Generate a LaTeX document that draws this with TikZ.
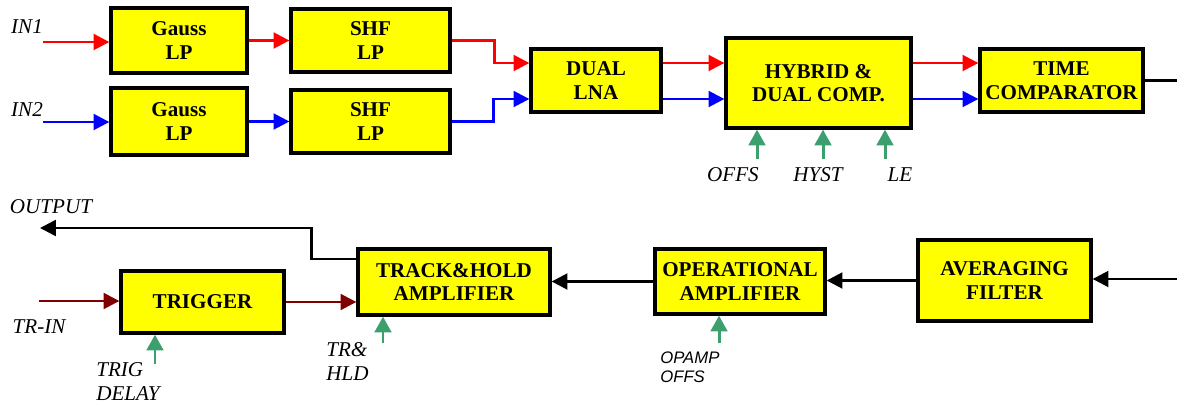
\documentclass[tikz,border=0pt]{standalone}
\usepackage{fontspec}
\setmainfont{Liberation Serif}
\setsansfont{Liberation Sans}
\usepackage{tikz}
\usetikzlibrary{arrows.meta,positioning}
\definecolor{blockYellow}{RGB}{255,255,0}
\definecolor{sigRed}{RGB}{255,0,0}
\definecolor{sigBlue}{RGB}{0,0,255}
\definecolor{trigRed}{RGB}{128,0,0}
\definecolor{ctrlGreen}{RGB}{60,160,110}

\begin{document}
\begin{tikzpicture}[x=0.02cm,y=-0.02cm,
  block/.style={draw=black, fill=blockYellow, line width=1.9pt, inner sep=0pt, align=center,
    font=\fontsize{12}{13.5}\selectfont\bfseries},
  wire/.style={line width=1.5pt, -{Triangle[length=9pt,width=9pt]}},
  ctrl/.style={ctrlGreen, line width=1.7pt, -{Triangle[length=9pt,width=9.5pt]}},
  lbl/.style={font=\fontsize{12}{13.5}\selectfont\itshape, inner sep=0pt, align=left}]
\useasboundingbox (0,0) rectangle (1177,409);

% upper chain
\node[block, minimum width=2.72cm, minimum height=1.30cm] (gaussA) at (179,40.5) {Gauss\\LP};
\node[block, minimum width=2.72cm, minimum height=1.34cm] (gaussB) at (179,121.5) {Gauss\\LP};
\node[block, minimum width=3.18cm, minimum height=1.26cm] (shfA) at (370.5,40.5) {SHF\\LP};
\node[block, minimum width=3.18cm, minimum height=1.26cm] (shfB) at (370.5,121.5) {SHF\\LP};
\node[block, minimum width=2.60cm, minimum height=1.26cm] (lna) at (596,80.5) {DUAL\\LNA};
\node[block, minimum width=3.70cm, minimum height=1.80cm] (hybrid) at (818.5,83) {HYBRID \&\\DUAL COMP.};
\node[block, minimum width=3.26cm, minimum height=1.26cm] (timecomp) at (1061.5,80.5) {TIME\\COMPARATOR};

\node[lbl] (inA) at (27,27) {IN1};
\node[lbl] (inB) at (27,110) {IN2};
\coordinate (inAend) at (43,42);
\coordinate (inBend) at (43,122);
\coordinate (edgeA) at (1177,80.5);

\draw[wire, sigRed] (inAend) -- (inAend -| gaussA.west);
\draw[wire, sigRed] (gaussA.east) -- (gaussA.east -| shfA.west);
\draw[wire, sigRed] (shfA.east) -- ++(43,0) |- ([yshift=0.35cm]lna.west);
\draw[wire, sigRed] ([yshift=0.35cm]lna.east) -- ([yshift=0.35cm]lna.east -| hybrid.west);
\draw[wire, sigRed] ([yshift=0.35cm]lna.east -| hybrid.east) -- ([yshift=0.35cm]timecomp.west);

\draw[wire, sigBlue] (inBend) -- (inBend -| gaussB.west);
\draw[wire, sigBlue] (gaussB.east) -- (gaussB.east -| shfB.west);
\draw[wire, sigBlue] (shfB.east) -- ++(42,0) |- ([yshift=-0.37cm]lna.west);
\draw[wire, sigBlue] ([yshift=-0.37cm]lna.east) -- ([yshift=-0.37cm]lna.east -| hybrid.west);
\draw[wire, sigBlue] ([yshift=-0.37cm]lna.east -| hybrid.east) -- ([yshift=-0.37cm]timecomp.west);

\draw[line width=1.5pt] (timecomp.east) -- (edgeA);

% hybrid controls
\coordinate (offsIn) at (757,159);
\coordinate (hystIn) at (823,159);
\coordinate (leIn) at (885,159);
\draw[ctrl] (offsIn) -- (offsIn |- hybrid.south);
\draw[ctrl] (hystIn) -- (hystIn |- hybrid.south);
\draw[ctrl] (leIn) -- (leIn |- hybrid.south);
\node[lbl] (offs) at (733,175) {OFFS};
\node[lbl] (hyst) at (818,175) {HYST};
\node[lbl] (le) at (900,175) {LE};

% lower chain
\node[block, minimum width=3.26cm, minimum height=1.24cm] (trigger) at (202.5,302) {TRIGGER};
\node[block, minimum width=3.84cm, minimum height=1.32cm] (trackhold) at (454,282) {TRACK\&HOLD\\AMPLIFIER};
\node[block, minimum width=3.40cm, minimum height=1.30cm] (opamp) at (740,281.5) {OPERATIONAL\\AMPLIFIER};
\node[block, minimum width=3.46cm, minimum height=1.62cm] (avgfilter) at (1004.5,280.5) {AVERAGING\\FILTER};

\coordinate (edgeB) at (1177,279);
\coordinate (outTip) at (40,228);
\coordinate (trIn) at (39,301);

\draw[wire] (edgeB) -- (edgeB -| avgfilter.east);
\draw[wire] (avgfilter.west) -- (avgfilter.west -| opamp.east);
\draw[wire] (opamp.west) -- (opamp.west -| trackhold.east);
\draw[wire] ([yshift=0.46cm]trackhold.west) -- ++(-45,0) |- (outTip);
\draw[wire, trigRed] (trIn) -- (trIn -| trigger.west);
\draw[wire, trigRed] (trigger.east) -- (trigger.east -| trackhold.west);

\node[lbl] (output) at (51,207) {OUTPUT};
\node[lbl] (trin) at (39,327) {TR-IN};

% lower controls
\coordinate (trigIn) at (155,364);
\coordinate (thIn) at (383,343);
\coordinate (opIn) at (719,343);
\draw[ctrl] (trigIn) -- (trigIn |- trigger.south);
\draw[ctrl] (thIn) -- (thIn |- trackhold.south);
\draw[ctrl] (opIn) -- (opIn |- opamp.south);
\node[lbl, anchor=west] (trigdelay) at (96,381.5) {TRIG\\DELAY};
\node[lbl, anchor=west] (trhld) at (326,361.5) {TR\&\\HLD};
\node[lbl, anchor=west, font=\fontsize{9.5}{11}\selectfont\sffamily\itshape] (opoffs) at (660,367.5) {OPAMP\\OFFS};
\end{tikzpicture}
\end{document}
